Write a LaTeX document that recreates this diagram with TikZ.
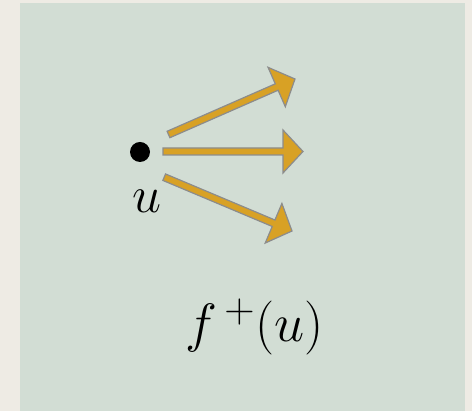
\RequirePackage{fix-cm}
\documentclass[tikz,border=0pt]{standalone}
\usetikzlibrary{calc}
\DeclareMathSizes{52}{52}{40}{30}
\DeclareMathSizes{54}{54}{42}{32}
\definecolor{paper}{RGB}{238,235,228}
\definecolor{sage}{RGB}{210,221,212}
\definecolor{gold}{RGB}{216,161,37}
\definecolor{slate}{RGB}{140,140,140}
\tikzset{
  dot/.style={circle,fill=black,inner sep=0pt,minimum size=20pt},
  bigmath/.style={font=\fontsize{#1}{60}\selectfont,inner sep=0pt,anchor=base},
  bigmath/.default=52,
  fan/.style={fill=gold,draw=slate,line width=1.2pt,line join=miter},
}
% block arrow from #1 (tail) to #2 (tip)
\newcommand\fanarrow[2]{%
  \coordinate (hb) at ($(#2)!20pt!(#1)$);
  \filldraw[fan] ($(#1)!3.5pt!90:(#2)$) -- ($(hb)!3.5pt!-90:(#1)$)
    -- ($(hb)!21.5pt!-90:(#1)$) -- (#2) -- ($(hb)!21.5pt!90:(#1)$)
    -- ($(hb)!3.5pt!90:(#1)$) -- ($(#1)!3.5pt!-90:(#2)$) -- cycle;}

\begin{document}
\begin{tikzpicture}[x=1pt,y=1pt]
  \fill[paper] (0,0) rectangle (472,411);
  \fill[sage] (20,0) rectangle (465,408);
  \node[dot] (u) at (140,259) {};
  \node[bigmath] (ul) at (146.5,198) {$u$};
  % tails near u, tips free
  \coordinate (t1) at ($(u)+(28.5,17.5)$);
  \coordinate (t2) at ($(u)+(23,0.5)$);
  \coordinate (t3) at ($(u)+(24.2,-25.2)$);
  \coordinate (h1) at (295,332);
  \coordinate (h2) at (303,259.5);
  \coordinate (h3) at (292,180);
  \fanarrow{t1}{h1}
  \fanarrow{t2}{h2}
  \fanarrow{t3}{h3}
  \node[bigmath=54] (fu) at (254.5,69) {$f^{\,+}(u)$};
\end{tikzpicture}
\end{document}
